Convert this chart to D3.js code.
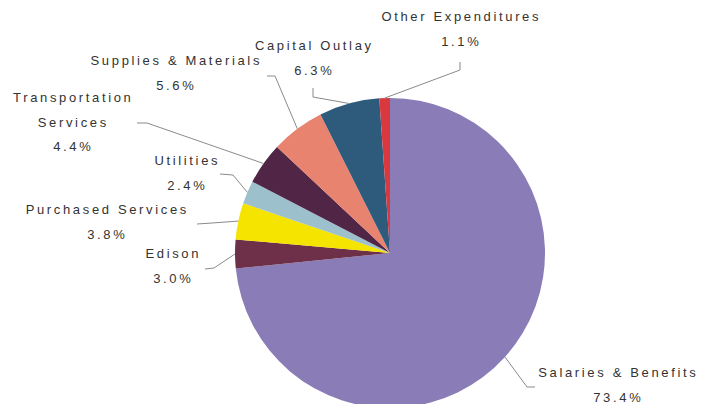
<!DOCTYPE html>
<html>
<head>
<meta charset="utf-8">
<script src="https://cdn.jsdelivr.net/npm/d3@7"></script>
<style>
  body { margin: 0; background: #fff; }
  svg { display: block; }
</style>
</head>
<body>
<script>
// Chart data (clockwise from 12 o'clock)
const categories = [
  "Salaries & Benefits", "Edison", "Purchased Services", "Utilities",
  "Transportation Services", "Supplies & Materials", "Capital Outlay", "Other Expenditures"
];
const shares = [73.4, 3.0, 3.8, 2.4, 4.4, 5.6, 6.3, 1.1];
const pctLabels = ["73.4%", "3.0%", "3.8%", "2.4%", "4.4%", "5.6%", "6.3%", "1.1%"];

// Label layout: text lines, centre x, first baseline, leader start + elbow
const labelLayout = [
  { lines: ["Salaries & Benefits"], x: 617, y: 377, start: [535, 387], elbow: [527, 387] },
  { lines: ["Edison"], x: 172, y: 258, start: [205, 269], elbow: [214, 268] },
  { lines: ["Purchased Services"], x: 106, y: 214, start: [197, 224], elbow: [212, 223] },
  { lines: ["Utilities"], x: 186, y: 165, start: [220, 174], elbow: [233, 175] },
  { lines: ["Transportation", "Services"], x: 72, y: 102, start: [137, 123], elbow: [147, 123] },
  { lines: ["Supplies & Materials"], x: 175, y: 65, start: [267, 76], elbow: [275, 76] },
  { lines: ["Capital Outlay"], x: 313, y: 50, start: [313, 88], elbow: [313, 97] },
  { lines: ["Other Expenditures"], x: 460, y: 21, start: [460, 62], elbow: [460, 70] }
];

const colors = ["#8a7cb6", "#6e2f48", "#f5e300", "#9cc0cc", "#512545", "#e8836f", "#2e5a7c", "#d9383f"];

const width = 705;
const height = 404;
const cx = 390, cy = 253, radius = 155;
const lineGap = 24.5;

const svg = d3.select("body")
  .append("svg")
  .attr("width", width)
  .attr("height", height);

const pie = d3.pie().sort(null).value((d) => d)
  .startAngle(0).endAngle(2 * Math.PI);
const arcs = pie(shares);

const arc = d3.arc().innerRadius(0).outerRadius(radius);
const edgeArc = d3.arc().innerRadius(radius).outerRadius(radius);

const g = svg.append("g").attr("transform", `translate(${cx},${cy})`);

g.selectAll("path.slice")
  .data(arcs)
  .enter()
  .append("path")
  .attr("class", "slice")
  .attr("d", arc)
  .attr("fill", (d, i) => colors[i]);

// leader lines
svg.selectAll("polyline.leader")
  .data(arcs)
  .enter()
  .append("polyline")
  .attr("class", "leader")
  .attr("fill", "none")
  .attr("stroke", "#8a8a8a")
  .attr("stroke-width", 1)
  .attr("points", (d, i) => {
    const L = labelLayout[i];
    const e = edgeArc.centroid(d);
    return [L.start, L.elbow, [cx + e[0], cy + e[1]]].map((p) => p.join(",")).join(" ");
  });

// labels
const labels = svg.selectAll("g.label")
  .data(arcs)
  .enter()
  .append("g")
  .attr("class", "label");

labels.each(function (d, i) {
  const L = labelLayout[i];
  const lines = L.lines.concat([pctLabels[i]]);
  const t = d3.select(this).append("text")
    .attr("text-anchor", "middle")
    .attr("font-family", "'Liberation Sans', Arial, sans-serif")
    .attr("font-size", 13)
    .attr("letter-spacing", "2.65px")
    .attr("fill", "#333");
  lines.forEach((s, k) => {
    t.append("tspan")
      .attr("x", L.x + 1.3)
      .attr("y", L.y + k * lineGap)
      .text(s);
  });
});
</script>
</body>
</html>
